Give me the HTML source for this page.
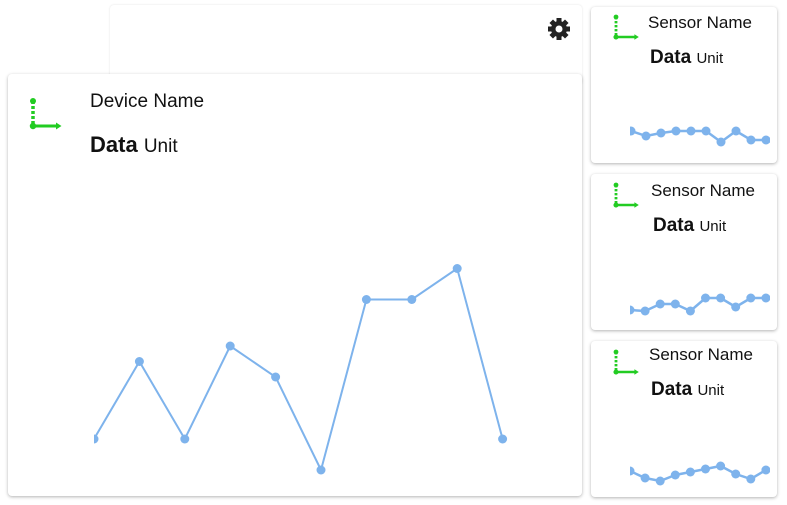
<!DOCTYPE html>
<html><head><meta charset="utf-8"><style>
body{margin:0;width:787px;height:505px;background:#fff;font-family:"Liberation Sans",sans-serif;position:relative;overflow:hidden}
.card{position:absolute;background:#fff;border-radius:4px;box-shadow:0 1px 3px rgba(0,0,0,.3)}
.t{position:absolute;color:#111;white-space:nowrap}
svg{position:absolute;left:0;top:0}
</style></head><body>
<div class="card" style="left:110px;top:5px;width:472px;height:80px;box-shadow:0 0 2px rgba(0,0,0,.12)"></div>
<div class="card" style="left:8px;top:74px;width:574px;height:422px"></div>
<div class="card" style="left:591px;top:7px;width:186px;height:156px"></div>
<div class="card" style="left:591px;top:174px;width:186px;height:156px"></div>
<div class="card" style="left:591px;top:341px;width:186px;height:156px"></div>
<div class="t" style="left:90px;top:91px;font-size:19px">Device Name</div>
<div class="t" style="left:90px;top:132px;font-size:22px"><b>Data</b> <span style="font-size:19px">Unit</span></div>
<div class="t" style="left:648px;top:13px;font-size:17px">Sensor Name</div>
<div class="t" style="left:650px;top:47px;font-size:19px"><b>Data</b> <span style="font-size:15px">Unit</span></div>
<div class="t" style="left:651px;top:181px;font-size:17px">Sensor Name</div>
<div class="t" style="left:653px;top:215px;font-size:19px"><b>Data</b> <span style="font-size:15px">Unit</span></div>
<div class="t" style="left:649px;top:345px;font-size:17px">Sensor Name</div>
<div class="t" style="left:651px;top:379px;font-size:19px"><b>Data</b> <span style="font-size:15px">Unit</span></div>
<svg id="s" width="787" height="505">
<defs><clipPath id="c0"><rect x="94" y="150" width="480" height="340"/></clipPath>
<clipPath id="c1"><rect x="630" y="100" width="140" height="400"/></clipPath></defs>
<g transform="translate(559,29)">
<circle r="8" fill="#222"/><g fill="#222"><rect x="-2.5" y="-11" width="5" height="22"/><rect x="-2.5" y="-11" width="5" height="22" transform="rotate(45)"/><rect x="-2.5" y="-11" width="5" height="22" transform="rotate(90)"/><rect x="-2.5" y="-11" width="5" height="22" transform="rotate(135)"/></g><circle r="3.5" fill="#fff"/></g>
</svg>
<script>
const mainValues=[1,3.5,1,4,3,0,5.5,5.5,6.5,1];
const s1Values=[3,2.5,2.8,3,3,3,1.9,3,2.1,2.1];
const s2Values=[2,1.9,2.6,2.6,1.9,3.2,3.2,2.3,3.2,3.2];
const s3Values=[2.5,1.8,1.5,2.1,2.4,2.7,3,2.2,1.7,2.6];
const NS='http://www.w3.org/2000/svg',svg=document.getElementById('s');
function mk(t,a){const e=document.createElementNS(NS,t);for(const k in a)e.setAttribute(k,a[k]);return e;}
function chart(vals,x0,dx,y0,dy,r,w,clip,name){
 const g=mk('g',{'clip-path':'url(#'+clip+')'});
 
 
 const xs=i=>x0+i*dx, ys=v=>y0-v*dy;
 g.appendChild(mk('polyline',{points:vals.map((v,i)=>xs(i)+','+ys(v)).join(' '),fill:'none',stroke:'#7eb3ec','stroke-width':w}));
 vals.forEach((v,i)=>{const c=mk('circle',{cx:xs(i),cy:ys(v),r:r,fill:'#7eb3ec'});
  
  
  g.appendChild(c);});
 svg.appendChild(g);
}
chart(mainValues,94,45.4,470,31,4.5,2,'c0','main-line');
chart(s1Values,631,15,161,10,4.5,2.5,'c1','sensor-line-1');
chart(s2Values,630,15.1,330,10,4.5,2.5,'c1','sensor-line-2');
chart(s3Values,630,15.1,496,10,4.5,2.5,'c1','sensor-line-3');
function icon(x,y,s,n){
 const g=mk('g',{transform:`translate(${x},${y}) scale(${s})`});
 
 
 g.appendChild(mk('line',{x1:0,y1:0,x2:0,y2:25,stroke:'#22cc22','stroke-width':3.5,'stroke-dasharray':'3 2'}));
 g.appendChild(mk('circle',{cx:0,cy:0,r:3,fill:'#22cc22'}));
 g.appendChild(mk('line',{x1:0,y1:25,x2:25,y2:25,stroke:'#22cc22','stroke-width':3}));
 g.appendChild(mk('circle',{cx:0,cy:25,r:3.2,fill:'#22cc22'}));
 g.appendChild(mk('path',{d:'M23 21.5 L28.5 25 L23 28.5Z',fill:'#22cc22'}));
 svg.appendChild(g);
}
icon(33,101,1,'device-icon');
icon(616,17,0.8,'sensor-icon-1');
icon(616,185,0.8,'sensor-icon-2');
icon(616,352,0.8,'sensor-icon-3');
</script>
</body></html>
